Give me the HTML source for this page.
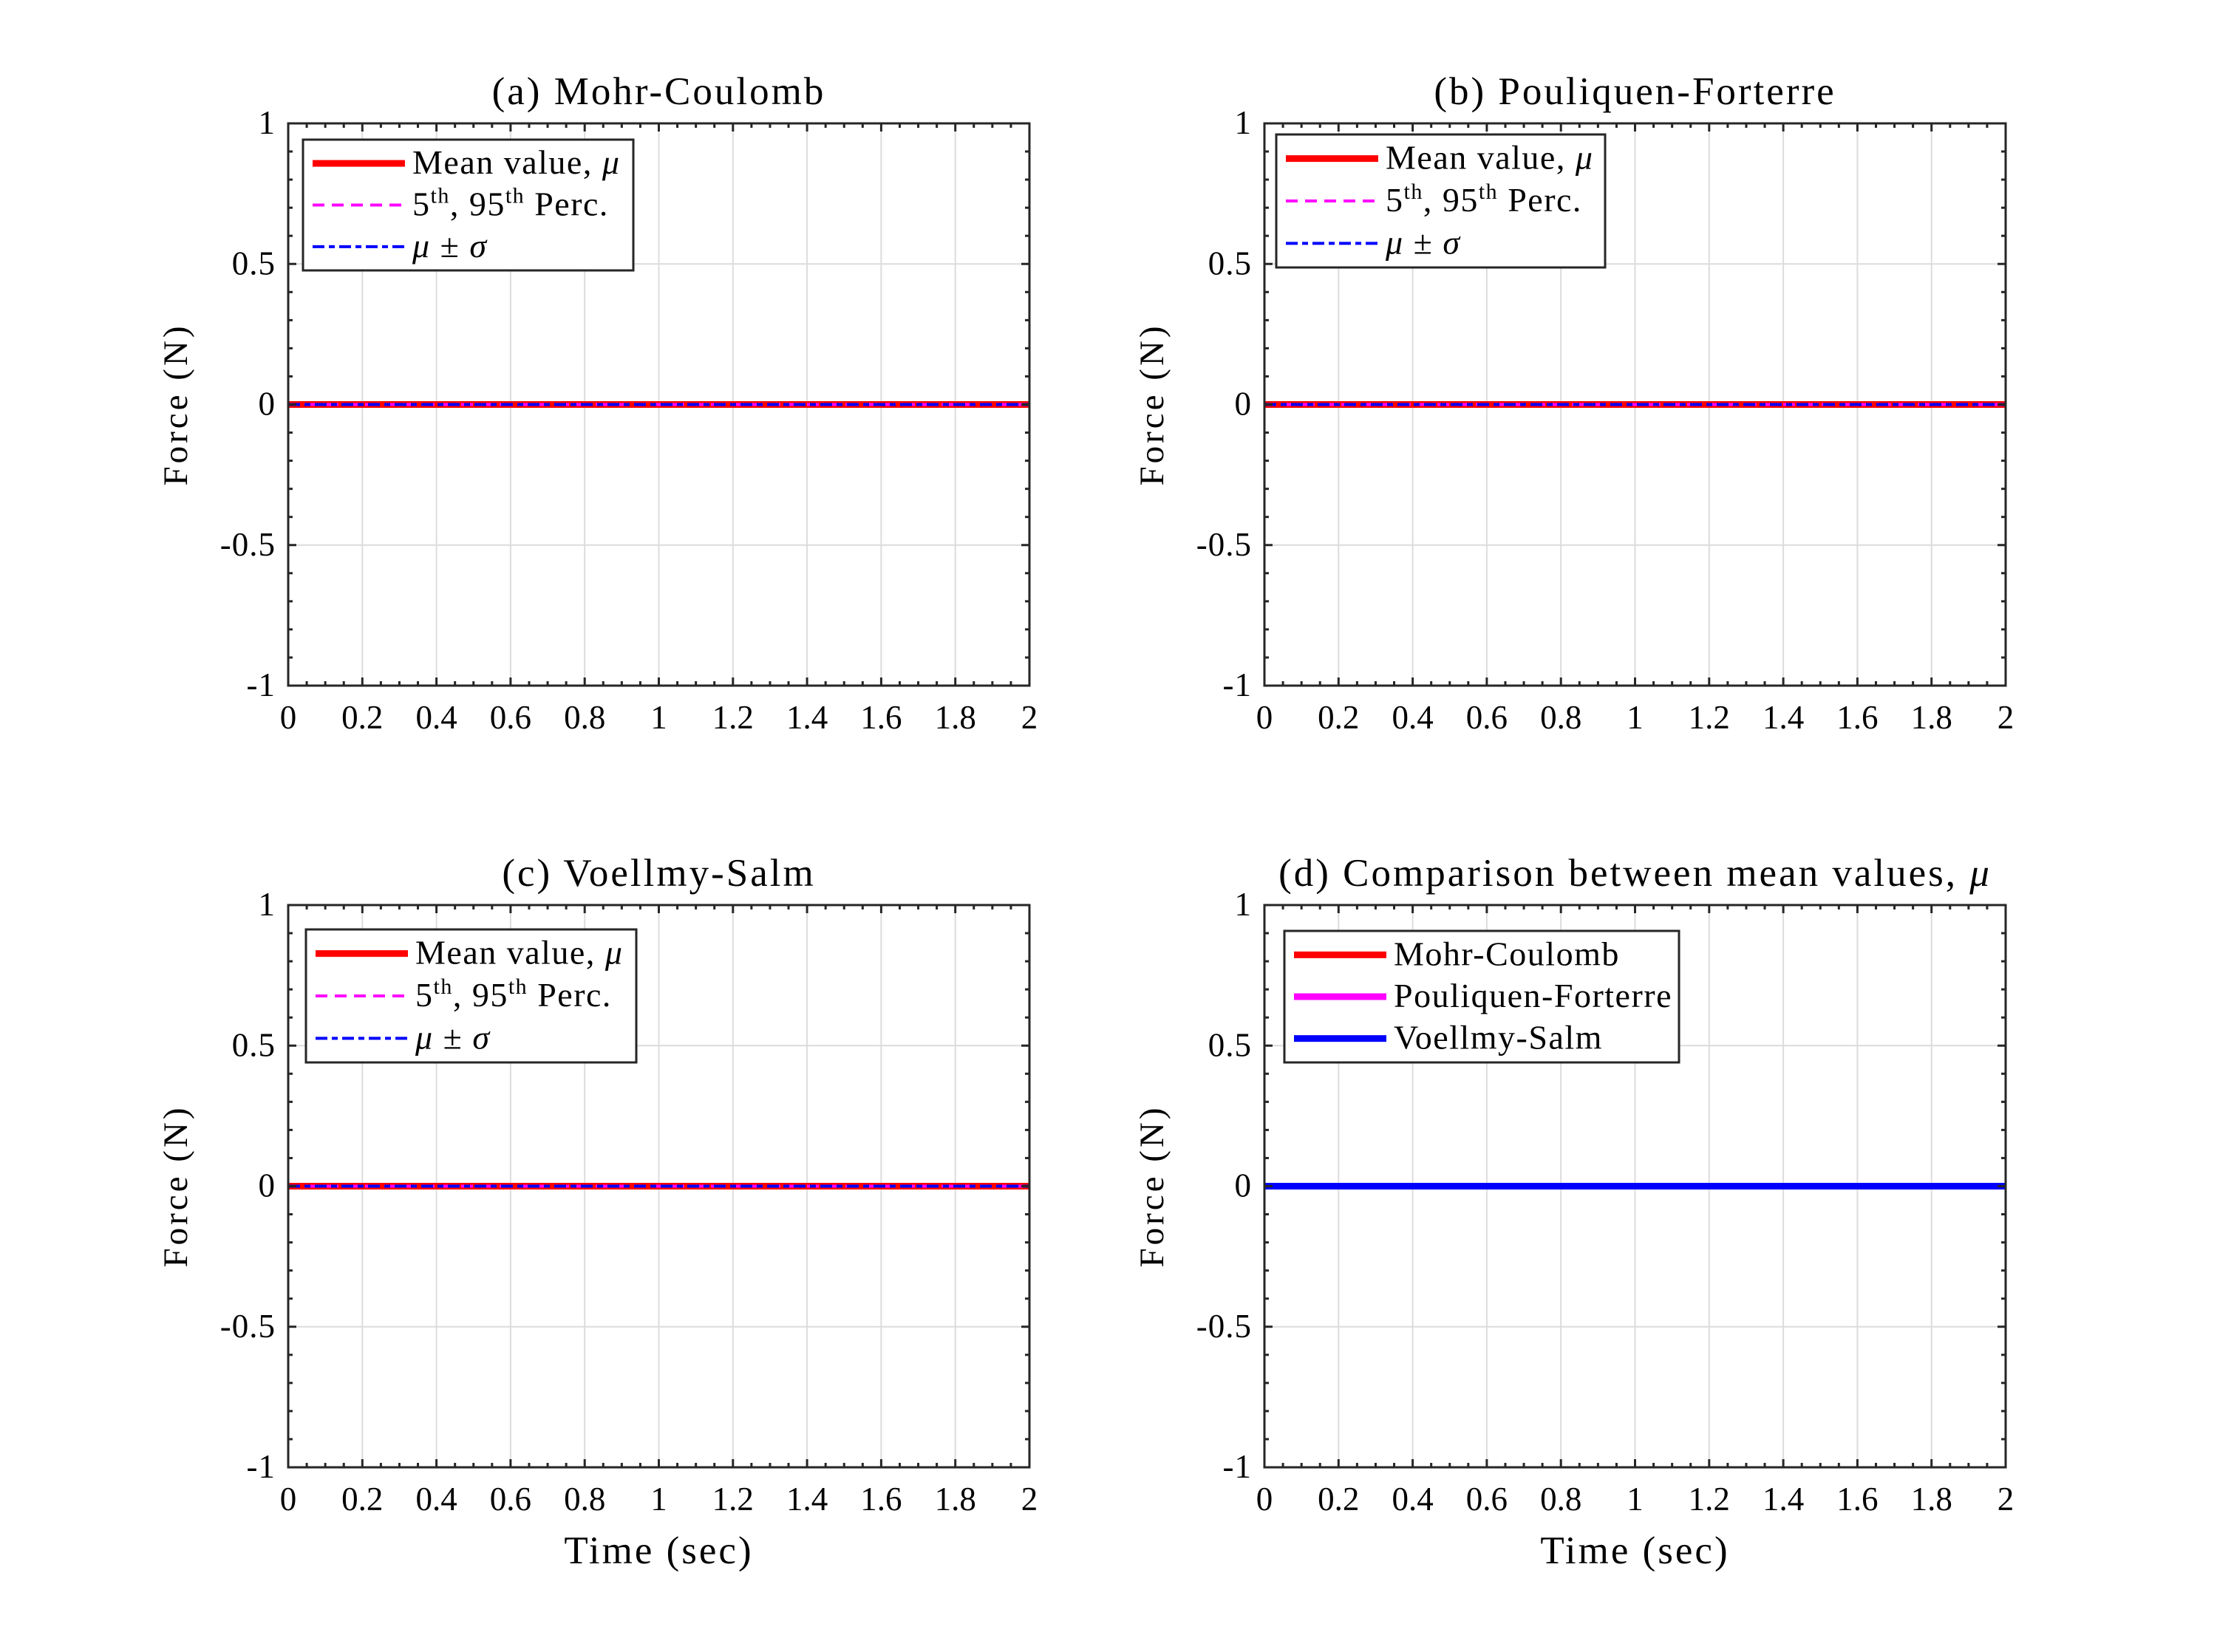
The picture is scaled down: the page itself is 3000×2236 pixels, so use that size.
<!DOCTYPE html>
<html><head><meta charset="utf-8"><style>
html,body{margin:0;padding:0;background:#fff}
svg text{font-family:"Liberation Serif","DejaVu Serif",serif;fill:#000}
</style></head><body>
<svg id="fig" width="3000" height="2231" viewBox="0 0 3000 2231" xmlns="http://www.w3.org/2000/svg"></svg>
<script>
const timeVals = [0, 2];
const meanMC = [0, 0];
const meanPF = [0, 0];
const meanVS = [0, 0];
const pct5 = [0, 0];
const pct95 = [0, 0];
const sigLo = [0, 0];
const sigHi = [0, 0];
const xTicks = [0,0.2,0.4,0.6,0.8,1,1.2,1.4,1.6,1.8,2];
const xTickLabels = ["0","0.2","0.4","0.6","0.8","1","1.2","1.4","1.6","1.8","2"];
const yTicks = [-1,-0.5,0,0.5,1];
const yTickLabels = ["-1","-0.5","0","0.5","1"];

const NS="http://www.w3.org/2000/svg";
const svg=document.getElementById('fig');
function mk(tag,attrs,parent){const e=document.createElementNS(NS,tag);for(const k in attrs)e.setAttribute(k,attrs[k]);(parent||svg).appendChild(e);return e;}

const panels=[
 {key:'a',title:'(a) Mohr-Coulomb',L:390,T:167,leg:[410,189,857,366],type:'stat',mean:meanMC,xlabel:false},
 {key:'b',title:'(b) Pouliquen-Forterre',L:1711,T:167,leg:[1727,182,2172,362],type:'stat',mean:meanPF,xlabel:false},
 {key:'c',title:'(c) Voellmy-Salm',L:390,T:1225,leg:[414,1258,861,1438],type:'stat',mean:meanVS,xlabel:true},
 {key:'d',title:'(d) Comparison between mean values, ',L:1711,T:1225,leg:[1738,1260,2272,1438],type:'cmp',xlabel:true}
];
const W=1003,H=761;

panels.forEach(p=>{
 const g=mk('g',{});
 
 
 const sx=v=>p.L+(v-0)/(2-0)*W;
 const sy=v=>p.T+(1-v)/2*H;
 xTicks.forEach(t=>{const l=mk('line',{x1:sx(t),x2:sx(t),y1:p.T,y2:p.T+H,stroke:'#dcdcdc','stroke-width':2},g);});
 yTicks.forEach(t=>{const l=mk('line',{x1:p.L,x2:p.L+W,y1:sy(t),y2:sy(t),stroke:'#dcdcdc','stroke-width':2},g);});
 const pts=(arr)=>timeVals.map((t,i)=>sx(t)+','+sy(arr[i])).join(' ');
 if(p.type==='stat'){
  const s1=mk('polyline',{points:pts(p.mean),fill:'none',stroke:'#ff0000','stroke-width':9},g);
  [pct5,pct95].forEach(a=>{const s=mk('polyline',{points:pts(a),fill:'none',stroke:'#ff00ff','stroke-width':4,'stroke-dasharray':'16 10'},g);});
  [sigLo,sigHi].forEach(a=>{const s=mk('polyline',{points:pts(a),fill:'none',stroke:'#0000ff','stroke-width':4,'stroke-dasharray':'16 6 8 6'},g);});
 } else {
  [[meanMC,'#ff0000','mohr-coulomb-line'],[meanPF,'#ff00ff','pouliquen-forterre-line'],[meanVS,'#0000ff','voellmy-salm-line']].forEach(s=>{const e=mk('polyline',{points:pts(s[0]),fill:'none',stroke:s[1],'stroke-width':9},g);});
 }
 const box=mk('rect',{x:p.L,y:p.T,width:W,height:H,fill:'none',stroke:'#262626','stroke-width':3},g);
 
 for(let i=0;i<=40;i++){const v=i*0.05;const major=i%4===0;const len=major?11:6;
  mk('line',{x1:sx(v),x2:sx(v),y1:p.T+H,y2:p.T+H-len,stroke:'#262626','stroke-width':3},g);
  mk('line',{x1:sx(v),x2:sx(v),y1:p.T,y2:p.T+len,stroke:'#262626','stroke-width':3},g);}
 for(let i=0;i<=20;i++){const v=-1+i*0.1;const major=i%5===0;const len=major?11:6;
  mk('line',{x1:p.L,x2:p.L+len,y1:sy(v),y2:sy(v),stroke:'#262626','stroke-width':3},g);
  mk('line',{x1:p.L+W,x2:p.L+W-len,y1:sy(v),y2:sy(v),stroke:'#262626','stroke-width':3},g);}
 xTicks.forEach((t,i)=>{const e=mk('text',{x:sx(t),y:p.T+H+58,'font-size':45,'text-anchor':'middle',fill:'#262626'},g);e.textContent=xTickLabels[i];});
 yTicks.forEach((t,i)=>{const e=mk('text',{x:p.L-17,y:sy(t)+14,'font-size':45,'text-anchor':'end',fill:'#262626','letter-spacing':1},g);e.textContent=yTickLabels[i];});
 const tt=mk('text',{x:p.L+W/2,y:p.T-26,'font-size':53,'text-anchor':'middle','letter-spacing':3},g);
 tt.textContent=p.title;
 if(p.type==='cmp'){const ts=mk('tspan',{'font-style':'italic'},tt);ts.textContent='μ';}
 
 const yl=mk('text',{x:0,y:0,'font-size':47,'text-anchor':'middle',transform:`translate(${p.L-137},${p.T+H/2}) rotate(-90)`,'letter-spacing':4},g);
 yl.textContent='Force (N)';
 if(p.xlabel){const xl=mk('text',{x:p.L+W/2,y:p.T+H+130,'font-size':53,'text-anchor':'middle','letter-spacing':3},g);xl.textContent='Time (sec)';}
 const [lx,ly,rx,by]=p.leg;
 const lg=mk('g',{},g);
 mk('rect',{x:lx,y:ly,width:rx-lx,height:by-ly,fill:'#fff',stroke:'#262626','stroke-width':3},lg);
 const rowH=(by-ly-8)/3;
 const rows=p.type==='stat'?[
   ['#ff0000',9,'none','mean'],['#ff00ff',4,'16 10','pct'],['#0000ff',4,'16 6 8 6','sig']]:
  [['#ff0000',9,'none','Mohr-Coulomb'],['#ff00ff',9,'none','Pouliquen-Forterre'],['#0000ff',9,'none','Voellmy-Salm']];
 rows.forEach((r,i)=>{
  const cy=ly+4+rowH*(i+0.5);
  const e=mk('g',{},lg);
  mk('line',{x1:lx+13,x2:lx+138,y1:cy,y2:cy,stroke:r[0],'stroke-width':r[1],'stroke-dasharray':r[2]},e);
  const t=mk('text',{x:lx+148,y:cy+14,'font-size':46,'letter-spacing':1.5},e);
  if(r[3]==='mean'){t.textContent='Mean value, ';const s=mk('tspan',{'font-style':'italic'},t);s.textContent='μ';}
  else if(r[3]==='pct'){t.textContent='5';let s=mk('tspan',{'font-size':30,dy:-17},t);s.textContent='th';s=mk('tspan',{dy:17},t);s.textContent=', 95';s=mk('tspan',{'font-size':30,dy:-17},t);s.textContent='th';s=mk('tspan',{dy:17},t);s.textContent=' Perc.';}
  else if(r[3]==='sig'){let s=mk('tspan',{'font-style':'italic'},t);s.textContent='μ';s=mk('tspan',{},t);s.textContent=' ± ';s=mk('tspan',{'font-style':'italic'},t);s.textContent='σ';}
  else t.textContent=r[3];
 });
});
</script>
</body></html>
